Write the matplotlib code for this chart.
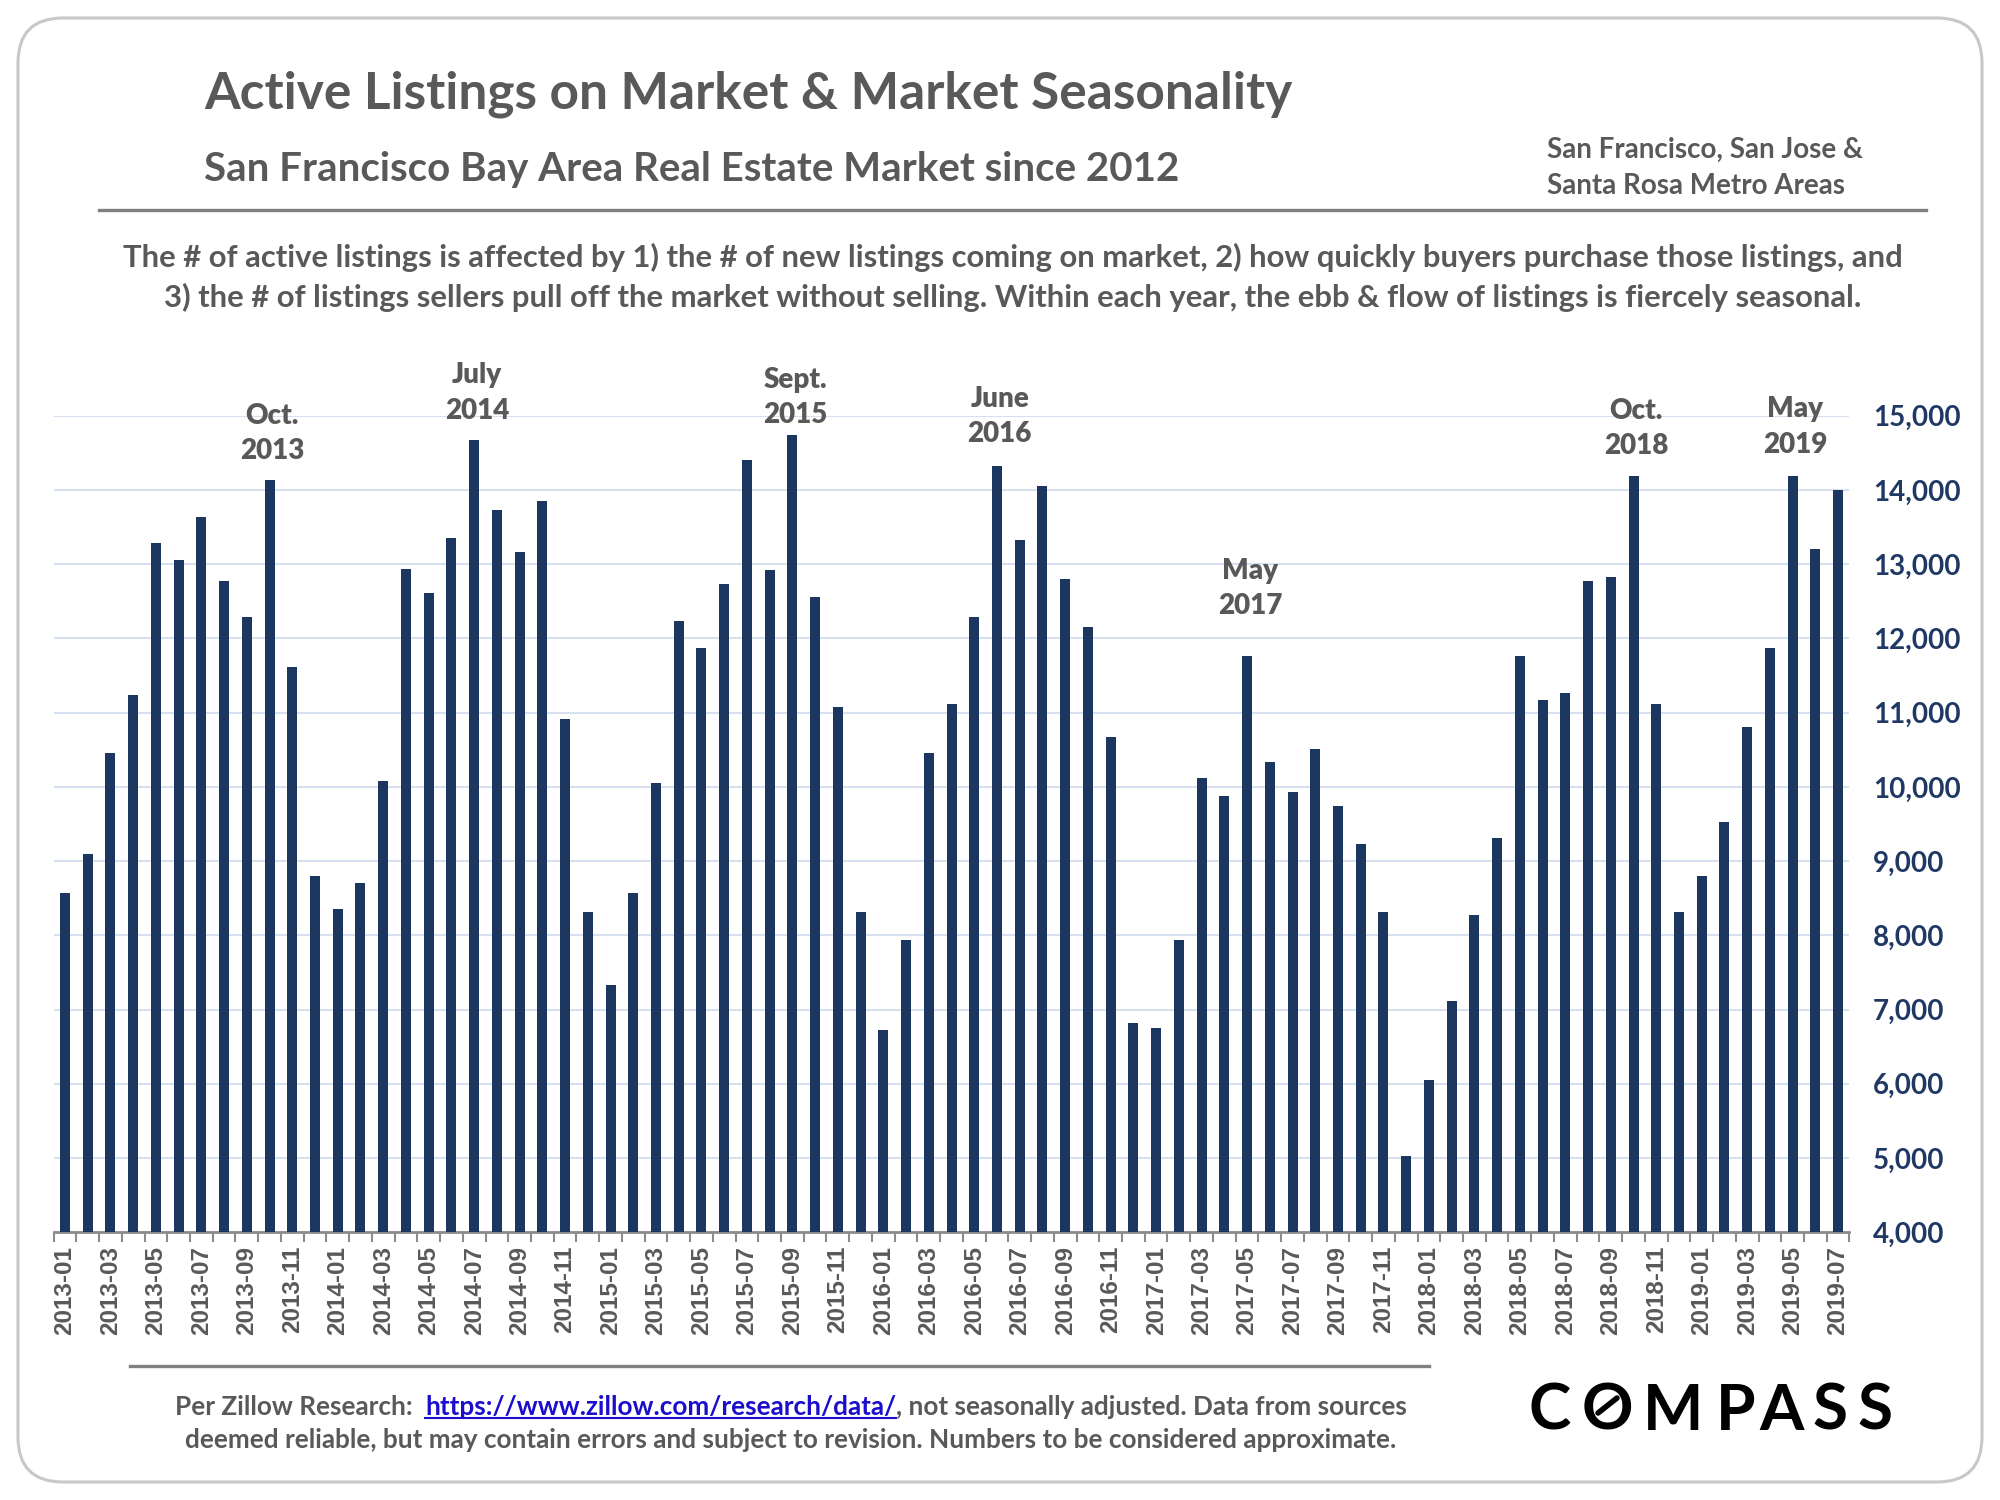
import numpy as np
import matplotlib.pyplot as plt
from matplotlib.patches import FancyBboxPatch
from matplotlib.lines import Line2D

# monthly active listings, 2013-01 .. 2019-07
months = [f"{y}-{m:02d}" for y in range(2013, 2020) for m in range(1, 13)][:79]
listings = [
    8570, 9090, 10450, 11240, 13280, 13060, 13640, 12770, 12290, 14140, 11610, 8800,
    8350, 8710, 10080, 12940, 12610, 13350, 14670, 13730, 13160, 13850, 10910, 8310,
    7330, 8570, 10050, 12230, 11870, 12730, 14400, 12920, 14740, 12560, 11080, 8310,
    6720, 7940, 10450, 11120, 12290, 14330, 13330, 14060, 12800, 12150, 10670, 6820,
    6750, 7940, 10120, 9880, 11770, 10340, 9930, 10510, 9740, 9230, 8310, 5030,
    6050, 7110, 8280, 9310, 11770, 11170, 11270, 12780, 12830, 14190, 11120, 8310,
    8800, 9520, 10810, 11870, 14190, 13210, 14000,
]

peak_months = ["2013-10", "2014-07", "2015-09", "2016-06", "2017-05", "2018-10", "2019-05"]
peak_labels = ["Oct.\n2013", "July\n2014", "Sept.\n2015", "June\n2016",
               "May\n2017", "Oct.\n2018", "May\n2019"]
peak_gaps = [11, 12, 5, 13, 26, 12, 13]  # points between bar top and label

yticks = list(range(4000, 15001, 1000))

GRAY = '#595959'
NAVY = '#1B3760'
FONT = 'Lato'


def fx(x):
    return x / 1568


def fy(y):
    return 1 - y / 1176


fig = plt.figure(figsize=(20, 15), dpi=100)
fig.patch.set_facecolor('white')

# rounded frame
frame = FancyBboxPatch((0.18, 0.18), 19.64, 14.64, boxstyle="round,pad=0,rounding_size=0.45",
                       transform=fig.dpi_scale_trans, fc='none', ec='#C8C8C8', lw=2.2, zorder=-1)
fig.patches.append(frame)

ax = fig.add_axes([fx(42), fy(966), fx(1450) - fx(42), fy(326) - fy(966)])
ax.set_facecolor('none')
x = np.arange(len(months))
ax.bar(x, np.array(listings) - 4000, bottom=4000, width=0.44, color=NAVY, zorder=3)

ax.set_xlim(-0.5, len(months) - 0.5)
ax.set_ylim(4000, 15000)
ax.set_yticks(yticks)
ax.set_yticklabels([f"{v:,}" for v in yticks])
ax.yaxis.tick_right()
ax.tick_params(axis='y', length=0, pad=17, labelsize=20, labelcolor='#1F3864')
for lab in ax.get_yticklabels():
    lab.set_fontfamily(FONT)
    lab.set_fontweight('bold')
ax.grid(axis='y', color='#D6E0EE', lw=1.5, zorder=0)

ax.set_xticks(x[::2])
ax.set_xticklabels(months[::2], rotation=90, fontsize=17.5, color='#595959',
                   family='Liberation Sans', fontweight='bold')
ax.set_xticks(np.arange(-0.5, len(months), 1), minor=True)
ax.tick_params(axis='x', which='major', length=0, pad=10)
ax.tick_params(axis='x', which='minor', length=7, width=1.5, color='#8C8C8C')
for s in ['top', 'left', 'right']:
    ax.spines[s].set_visible(False)
ax.spines['bottom'].set_color('#8C8C8C')
ax.spines['bottom'].set_linewidth(2)

for m, lab, gap in zip(peak_months, peak_labels, peak_gaps):
    i = months.index(m)
    ax.annotate(lab, xy=(i, listings[i]), xytext=(2, gap), textcoords='offset points',
                ha='center', va='bottom', family=FONT, fontsize=20, fontweight='heavy',
                color=GRAY, linespacing=1.45, annotation_clip=False)

# header
fig.text(fx(160), fy(85), "Active Listings on Market & Market Seasonality", fontsize=37,
         fontweight='bold', color=GRAY, family=FONT, va='baseline')
fig.text(fx(160), fy(142), "San Francisco Bay Area Real Estate Market since 2012", fontsize=29,
         fontweight='bold', color=GRAY, family=FONT, va='baseline')
fig.text(fx(1213), fy(124), "San Francisco, San Jose &", fontsize=20, fontweight='bold',
         color=GRAY, family=FONT, va='baseline')
fig.text(fx(1213), fy(152), "Santa Rosa Metro Areas", fontsize=20, fontweight='bold',
         color=GRAY, family=FONT, va='baseline')
fig.add_artist(Line2D([fx(78), fx(1510)], [fy(165), fy(165)], color='#808080', lw=2.4))

desc = ["The # of active listings is affected by 1) the # of new listings coming on market, "
        "2) how quickly buyers purchase those listings, and",
        "3) the # of listings sellers pull off the market without selling. Within each year, "
        "the ebb & flow of listings is fiercely seasonal."]
for line, yy in zip(desc, [209, 241]):
    fig.text(fx(794), fy(yy), line, fontsize=22.3, fontweight='bold', color=GRAY,
             family=FONT, ha='center', va='baseline')

# footer
fig.add_artist(Line2D([fx(102), fx(1120)], [fy(1071), fy(1071)], color='#808080', lw=2.4))
fkw = dict(fontsize=18.8, fontweight='bold', family=FONT, va='baseline')
parts = [("Per Zillow Research:  ", GRAY), ("https://www.zillow.com/research/data/", '#1A0DCC'),
         (", not seasonally adjusted. Data from sources", GRAY)]
renderer = fig.canvas.get_renderer()
texts = [fig.text(0, fy(1109), s, color=c, **fkw) for s, c in parts]
widths = [t.get_window_extent(renderer).width / fig.bbox.width for t in texts]
x0 = fx(620) - sum(widths) / 2
for t, w in zip(texts, widths):
    t.set_x(x0)
    x0 += w
url_bb = texts[1].get_window_extent(renderer).transformed(fig.transFigure.inverted())
fig.add_artist(Line2D([url_bb.x0, url_bb.x1], [fy(1112), fy(1112)], color='#1A0DCC', lw=1.5))
fig.text(fx(620), fy(1135), "deemed reliable, but may contain errors and subject to revision. "
         "Numbers to be considered approximate.", color=GRAY, ha='center', **fkw)

# logo
logo_x = [1550, 1607, 1673, 1736, 1782, 1830, 1875]
for ch, lx in zip("COMPASS", logo_x):
    fig.text(lx / 2000, 1 - 1430 / 1500, ch, fontsize=46, family=FONT, fontweight='bold',
             color='black', ha='center', va='baseline')
fig.add_artist(Line2D([1598 / 2000, 1617 / 2000], [1 - 1413 / 1500, 1 - 1398 / 1500],
                      color='black', lw=4, solid_capstyle='round'))

fig.savefig('out.png', dpi=100, facecolor='white')
